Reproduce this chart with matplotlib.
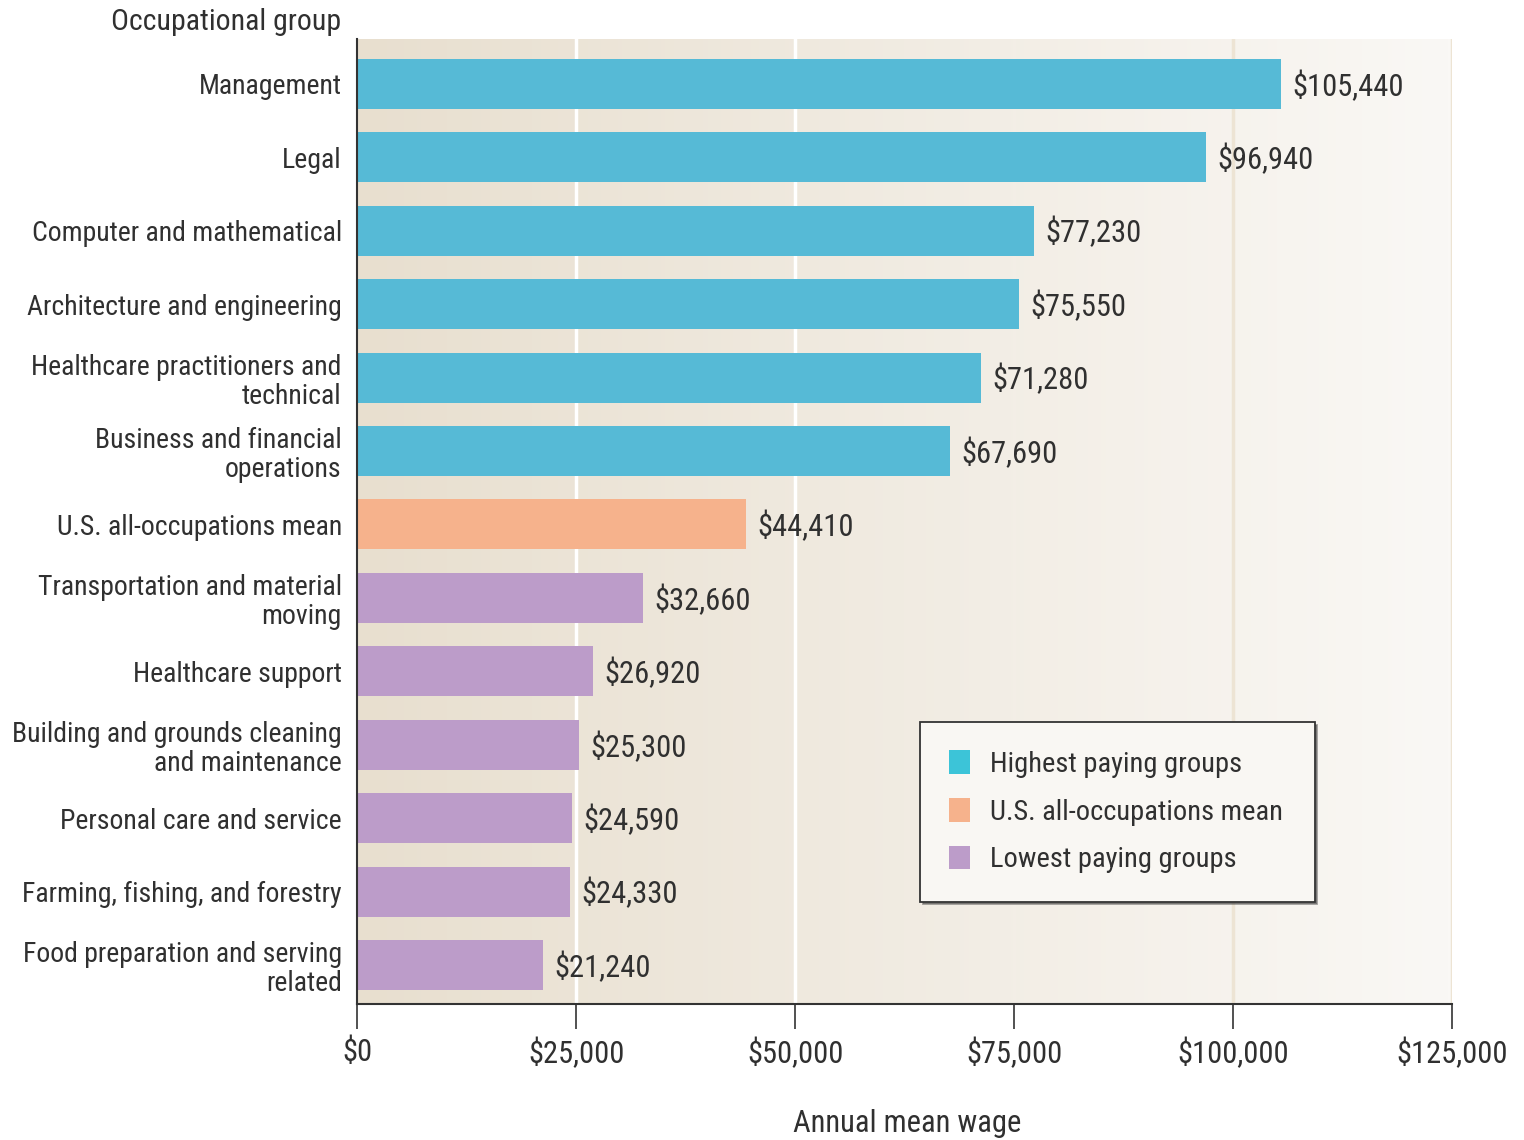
import matplotlib.pyplot as plt
import numpy as np
from matplotlib.patches import Patch

# Données : salaire annuel moyen par groupe professionnel
groups = [
    "Management",
    "Legal",
    "Computer and mathematical",
    "Architecture and engineering",
    "Healthcare practitioners and\ntechnical",
    "Business and financial\noperations",
    "U.S. all-occupations mean",
    "Transportation and material\nmoving",
    "Healthcare support",
    "Building and grounds cleaning\nand maintenance",
    "Personal care and service",
    "Farming, fishing, and forestry",
    "Food preparation and serving\nrelated",
]
wages = [105440, 96940, 77230, 75550, 71280, 67690, 44410,
         32660, 26920, 25300, 24590, 24330, 21240]
kinds = ["high"] * 6 + ["mean"] + ["low"] * 6

colors = {"high": "#56bad6", "mean": "#f6b28c", "low": "#bc9cc9"}
legend_colors = {"high": "#3cc4d8", "mean": "#f6b28c", "low": "#bc9cc9"}
legend_labels = {"high": "Highest paying groups",
                 "mean": "U.S. all-occupations mean",
                 "low": "Lowest paying groups"}

plt.rcParams['font.family'] = ['Roboto Condensed', 'Archivo Narrow', 'DejaVu Sans']
text_color = "#303030"

fig = plt.figure(figsize=(15.24, 11.4), dpi=100)
ax = fig.add_axes([0.2343, 0.1193, 0.7185, 0.8465])

ypos = np.arange(len(groups))
ax.set_xlim(0, 125000)
ax.set_ylim(len(groups) - 0.47, -0.61)

# fond dégradé beige -> blanc
grad = np.linspace(0, 1, 256).reshape(1, -1)
c0 = np.array([232, 223, 207]) / 255
c1 = np.array([250, 248, 245]) / 255
img = c0 + (c1 - c0) * grad[..., None]
ax.imshow(img, extent=[0, 125000, len(groups) - 0.47, -0.61],
          aspect="auto", zorder=0)

# lignes de grille verticales
for x, c in [(25000, "white"), (50000, "white"), (75000, "#f3eee6"),
             (100000, "#ede4d4"), (125000, "#ede4d4")]:
    ax.axvline(x, color=c, lw=2.5, zorder=1)

ax.barh(ypos, wages, height=0.68, color=[colors[k] for k in kinds], zorder=2)

for y, w in zip(ypos, wages):
    ax.text(w + 1300, y + 0.03, f"${w:,}", va="center", ha="left",
            fontsize=22, color=text_color, zorder=3)

ax.set_yticks(ypos)
ax.set_yticklabels(groups, fontsize=20, color=text_color, linespacing=1.1)
ax.tick_params(axis="y", length=0, pad=11)

ticks = [0, 25000, 50000, 75000, 100000, 125000]
ax.set_xticks(ticks)
ax.set_xticklabels([f"${t:,}" for t in ticks], fontsize=22, color=text_color)
ax.tick_params(axis="x", length=18, width=1.2, color="#333333", pad=6)

for s in ["top", "right"]:
    ax.spines[s].set_visible(False)
for s in ["left", "bottom"]:
    ax.spines[s].set_color("#333333")
    ax.spines[s].set_linewidth(1.5)
    ax.spines[s].set_zorder(4)

fig.text(341 / 1524, 1 - 22 / 1140, "Occupational group", ha="right",
         va="center", fontsize=21.5, color=text_color)
fig.text(907 / 1524, 1 - 1124 / 1140, "Annual mean wage", ha="center",
         va="center", fontsize=22, color=text_color)

handles = [Patch(facecolor=legend_colors[k], edgecolor="none", label=legend_labels[k])
           for k in ["high", "mean", "low"]]
leg = ax.legend(handles=handles, loc="lower left",
                bbox_to_anchor=(0.5145, 0.106, 0.36, 0.2), mode="expand",
                fontsize=20.5, frameon=True, fancybox=False, shadow=True,
                handlelength=0.75, handleheight=0.9, handletextpad=0.7,
                labelspacing=0.7, borderpad=1.0, borderaxespad=0)
leg.get_frame().set_edgecolor("#333333")
leg.get_frame().set_linewidth(1.3)
leg.get_frame().set_facecolor("#f9f7f3")
for t in leg.get_texts():
    t.set_color(text_color)
leg.set_zorder(5)

fig.savefig("out.png", dpi=100)
